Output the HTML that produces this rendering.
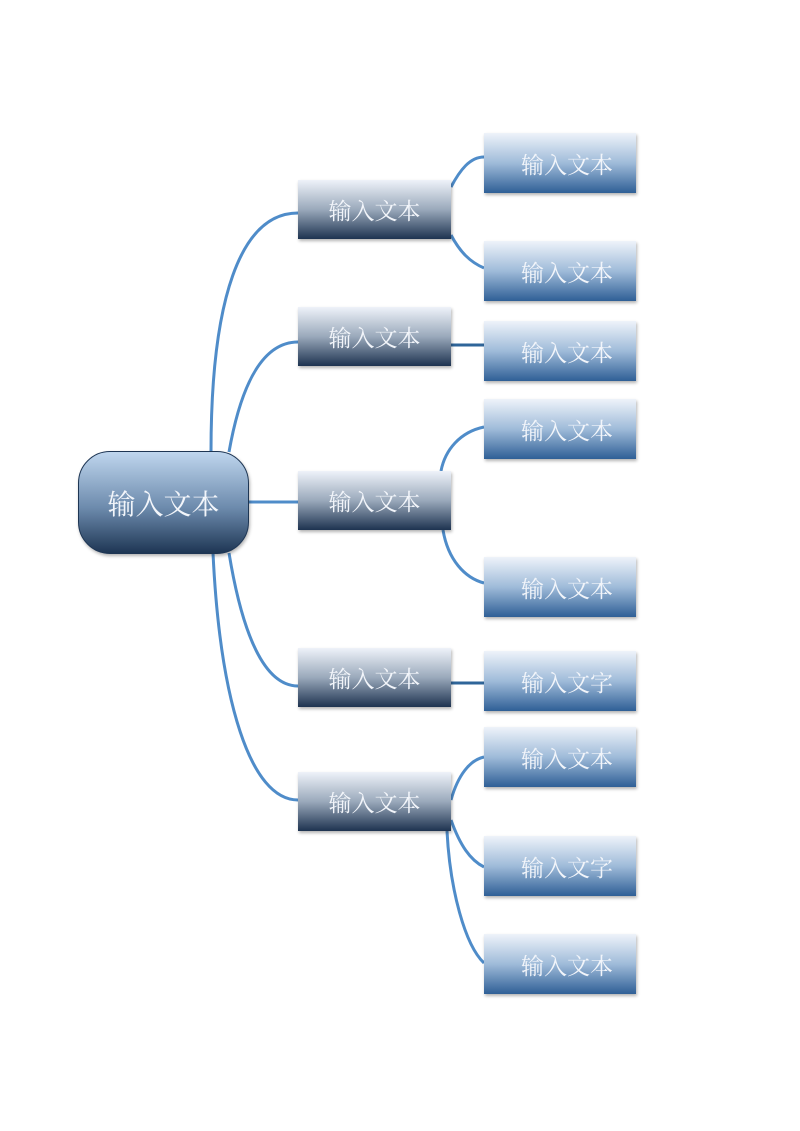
<!DOCTYPE html>
<html><head><meta charset="utf-8"><style>
body{margin:0;background:#fff;}
.c{position:relative;width:800px;height:1131px;overflow:hidden;font-family:"Liberation Serif","Noto Serif CJK SC",serif;}
.b{position:absolute;color:#f2f5fa;display:flex;align-items:center;justify-content:center;box-shadow:1px 2px 3px rgba(0,0,0,0.3);}
.m{left:298px;width:153px;height:59px;font-size:23px;background:linear-gradient(#eef2f9,#9aa9bb 50%,#1e3350);}
.l{left:484px;width:152px;height:60px;font-size:23px;background:linear-gradient(#eef3fa,#9fbbd9 50%,#2f5f96);padding-left:14px;box-sizing:border-box;}
.r{left:78px;top:451px;width:171px;height:103px;border-radius:32px;font-size:28px;border:1px solid #1e3654;box-sizing:border-box;background:linear-gradient(#bfd6ee,#6d8bad 55%,#1e3654);}
svg{position:absolute;left:0;top:0;}
</style></head><body><div class="c">
<svg width="800" height="1131"><g fill="none" stroke="#4f8cc9" stroke-width="3">
<path d="M211 452 C211 300 240 213 298 213"/>
<path d="M229 452 C240 390 260 342 298 342"/>
<path d="M249 502 L298 502"/>
<path d="M229 553 C240 620 260 686 298 686"/>
<path d="M213 553 C220 700 250 800 298 800"/>
<path d="M451 187 C460 170 470 157 484 157"/>
<path d="M451 235 C460 252 470 262 484 268"/>
<path d="M451 345 L484 345" stroke="#2f6599"/>
<path d="M441 471 C445 450 460 432 484 427"/>
<path d="M443 530 C448 560 465 578 484 583"/>
<path d="M451 683 L484 683" stroke="#2f6599"/>
<path d="M451 800 C458 775 470 760 484 757"/>
<path d="M451 820 C460 845 470 860 484 867"/>
<path d="M447 831 C450 890 465 945 484 963"/>
</g></svg>
<div class="b r">输入文本</div>
<div class="b m" style="top:180px">输入文本</div>
<div class="b m" style="top:307px">输入文本</div>
<div class="b m" style="top:471px">输入文本</div>
<div class="b m" style="top:648px">输入文本</div>
<div class="b m" style="top:772px">输入文本</div>
<div class="b l" style="top:133px">输入文本</div>
<div class="b l" style="top:241px">输入文本</div>
<div class="b l" style="top:321px">输入文本</div>
<div class="b l" style="top:399px">输入文本</div>
<div class="b l" style="top:557px">输入文本</div>
<div class="b l" style="top:651px">输入文字</div>
<div class="b l" style="top:727px">输入文本</div>
<div class="b l" style="top:836px">输入文字</div>
<div class="b l" style="top:934px">输入文本</div>
</div></body></html>
